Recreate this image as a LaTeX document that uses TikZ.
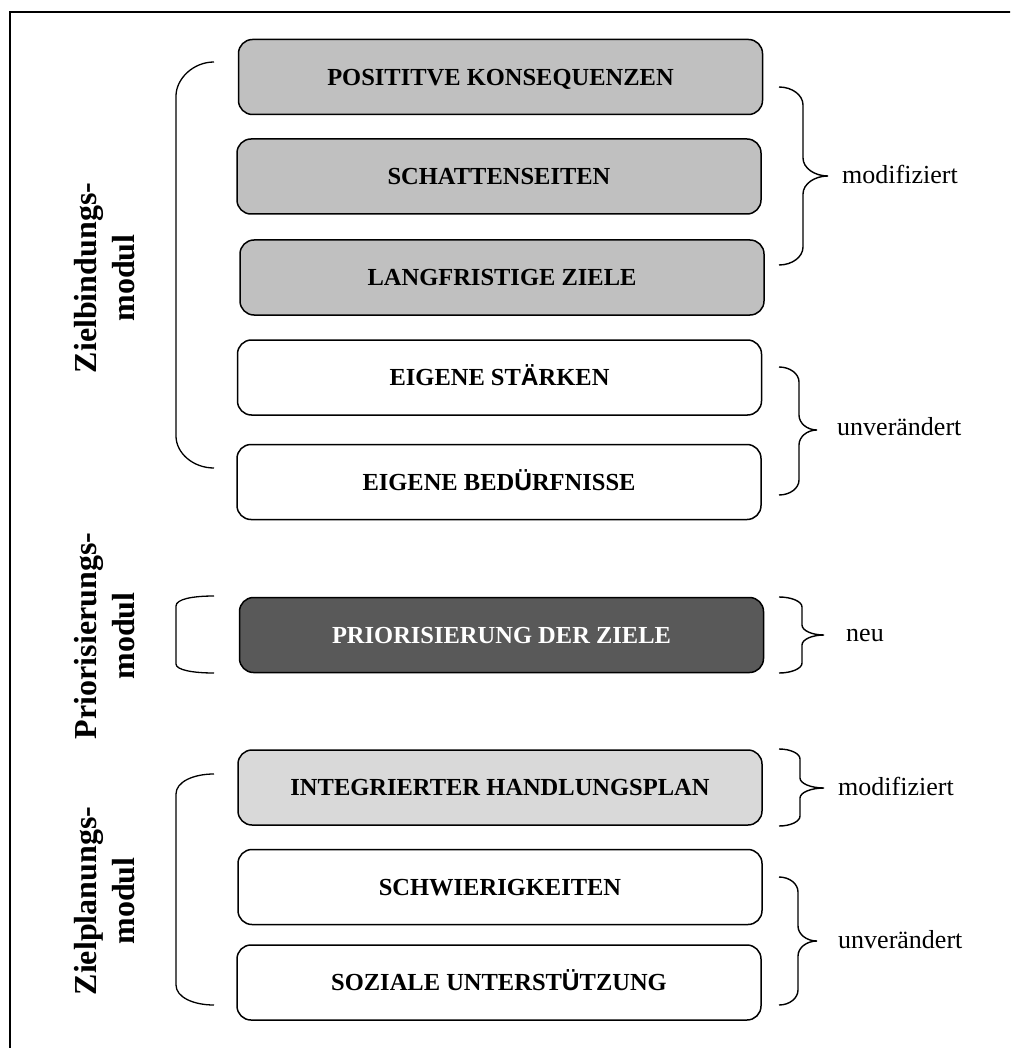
\documentclass[tikz,border=0pt]{standalone}
\usepackage{fontspec}
\setmainfont{Liberation Serif}
\newfontfamily\umlsans{Liberation Sans}
\usetikzlibrary{calc}

\definecolor{boxgray}{RGB}{192,192,192}
\definecolor{boxlight}{RGB}{217,217,217}
\definecolor{boxdark}{RGB}{89,89,89}

\tikzset{
  stage/.style={draw=black, line width=1.5pt, rounded corners=14pt,
    minimum width=524pt, minimum height=75pt, inner sep=0pt,
    text height=16.5pt, text depth=0pt, align=center,
    font=\fontsize{24.5}{29}\selectfont\bfseries},
  modified/.style={stage, fill=boxgray},
  modlight/.style={stage, fill=boxlight},
  newstage/.style={stage, fill=boxdark, text=white},
  keptstage/.style={stage, fill=white},
  modlabel/.style={rotate=90, align=center, inner sep=0pt,
    font=\fontsize{32}{38}\selectfont\bfseries},
  statelabel/.style={anchor=west, inner sep=0pt,
    font=\fontsize{26}{30}\selectfont},
  brk/.style={draw=black, line width=1.3pt},
  brc/.style={draw=black, line width=1.4pt},
}

% right curly brace: end x, top y, bottom y, spine x, tip x, tip y, curl size
\newcommand\rbrc[7]{%
  \draw[brc] (#1,#2) .. controls ({#1+0.55*(#4-#1)},#2) and (#4,{#2+0.45*#7}) .. (#4,{#2+#7})
    -- (#4,{#6-#7}) .. controls (#4,{#6-0.45*#7}) and ({#4+0.45*(#5-#4)},#6) .. (#5,#6)
    .. controls ({#4+0.45*(#5-#4)},#6) and (#4,{#6+0.45*#7}) .. (#4,{#6+#7})
    -- (#4,{#3-#7}) .. controls (#4,{#3-0.45*#7}) and ({#1+0.55*(#4-#1)},#3) .. (#1,#3);}

\begin{document}
\begin{tikzpicture}[x=1pt, y=-1pt]
\useasboundingbox (0,0) rectangle (1010,1048);
\clip (0,0) rectangle (1010,1048);

% outer frame
\draw[line width=1.5pt] (10,12) rectangle (1080,1120);

% stage boxes
\node[modified]  (pos)   at (500.5,77)   {POSITITVE KONSEQUENZEN};
\node[modified]  (shad)  at (499,176.5)  {SCHATTENSEITEN};
\node[modified]  (long)  at (502,277.5)  {LANGFRISTIGE ZIELE};
\node[keptstage] (str)   at (499.5,377.5){EIGENE ST{\umlsans\bfseries Ä}RKEN};
\node[keptstage] (need)  at (499,482)    {EIGENE BED{\umlsans\bfseries Ü}RFNISSE};
\node[newstage]  (prio)  at (501.5,635)  {PRIORISIERUNG DER ZIELE};
\node[modlight]  (plan)  at (500,787.5)  {INTEGRIERTER HANDLUNGSPLAN};
\node[keptstage] (diff)  at (500,887)    {SCHWIERIGKEITEN};
\node[keptstage] (soc)   at (499,982.5)  {SOZIALE UNTERST{\umlsans\bfseries Ü}TZUNG};

% module labels
\node[modlabel] (mbind) at (105,278) {Zielbindungs-\\modul};
\node[modlabel] (mprio) at (105,636) {Priorisierungs-\\modul};
\node[modlabel] (mplan) at (105,901) {Zielplanungs-\\modul};

% module brackets
\draw[brk] (214,62) .. controls (193,62) and (176,79) .. (176,96)
  -- (176,436) .. controls (176,453) and (193,468) .. (214,468);
\draw[brk] (214,596) .. controls (193,596) and (176,599) .. (176,606)
  -- (176,664) .. controls (176,670) and (193,673) .. (214,673);
\draw[brk] (214,774) .. controls (193,774) and (176,782) .. (176,794)
  -- (176,985) .. controls (176,997) and (193,1005) .. (214,1005);

% state braces
\rbrc{779}{87}{265}{803}{828}{176}{18}
\rbrc{779}{367}{495}{799}{817}{430}{15}
\rbrc{779}{597}{673}{802}{824}{635}{10}
\rbrc{779}{749}{826}{800}{824}{788}{10}
\rbrc{779}{877}{1005}{798}{817}{941}{15}

% state labels
\node[statelabel] (s1) at (842,174) {modifiziert};
\node[statelabel] (s2) at (837,427) {unverändert};
\node[statelabel] (s3) at (846,635) {neu};
\node[statelabel] (s4) at (838,786) {modifiziert};
\node[statelabel] (s5) at (838,940) {unverändert};
\end{tikzpicture}
\end{document}
